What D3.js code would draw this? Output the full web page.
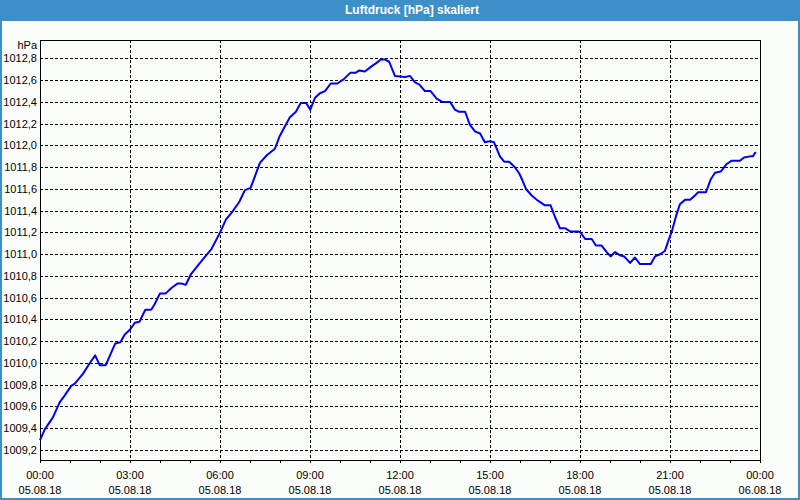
<!DOCTYPE html>
<html>
<head>
<meta charset="UTF-8">
<title>Luftdruck</title>
<style type="text/css">
body { margin: 0; background: #fbfdfb; }
svg { display: block; font-family: "Liberation Sans", Arial, sans-serif; }
.grid line { stroke: #000; stroke-width: 1px; stroke-dasharray: 3,2; shape-rendering: crispEdges; }
.lbl { font-size: 11px; fill: #000; }
path.line { fill: none; stroke: #0000f0; stroke-width: 2px; stroke-linejoin: round; }
</style>
<script src="https://d3js.org/d3.v7.min.js"></script>
</head>
<body>
<script type="text/javascript">
// hours since 05.08.18 00:00
var hours = [0.0,0.16,0.43,0.66,0.82,1.04,1.16,1.43,1.71,1.84,1.99,2.19,2.51,2.68,2.82,3.01,3.16,3.32,3.51,3.71,3.82,4.0,4.19,4.38,4.58,4.73,4.86,5.04,5.36,5.72,
  6.02,6.2,6.41,6.64,6.83,7.02,7.17,7.33,7.56,7.83,7.98,8.17,8.33,8.53,8.69,8.87,9.01,9.17,9.33,9.5,9.69,9.91,10.13,10.35,10.53,10.64,10.83,11.06,11.22,11.36,11.5,11.64,11.83,
  12.17,12.33,12.5,12.65,12.83,13.02,13.22,13.41,13.67,13.83,13.97,14.17,14.33,14.5,14.67,14.83,15.0,15.13,15.33,15.48,15.64,15.83,15.98,16.08,16.2,16.39,16.61,16.83,17.02,17.17,17.33,17.5,17.67,17.94,
  18.02,18.17,18.39,18.53,18.72,18.89,19.02,19.17,19.33,19.47,19.67,19.83,20.0,20.36,20.5,20.67,20.83,20.94,21.06,21.2,21.33,21.5,21.67,21.83,21.94,22.2,22.36,22.5,22.69,22.89,23.06,23.33,23.47,23.67,23.76,23.86];
var pressure = [1009.29,1009.39,1009.50,1009.64,1009.70,1009.79,1009.81,1009.90,1010.02,1010.07,1009.98,1009.98,1010.18,1010.19,1010.26,1010.31,1010.37,1010.38,1010.49,1010.49,1010.54,1010.64,1010.64,1010.69,1010.73,1010.73,1010.72,1010.82,1010.93,1011.05,
  1011.21,1011.32,1011.39,1011.48,1011.59,1011.61,1011.72,1011.84,1011.91,1011.97,1012.08,1012.18,1012.26,1012.31,1012.39,1012.39,1012.33,1012.44,1012.48,1012.50,1012.57,1012.57,1012.61,1012.67,1012.67,1012.69,1012.68,1012.73,1012.76,1012.79,1012.79,1012.77,1012.64,
  1012.63,1012.64,1012.58,1012.56,1012.50,1012.50,1012.43,1012.40,1012.40,1012.33,1012.31,1012.31,1012.19,1012.13,1012.11,1012.03,1012.04,1012.03,1011.90,1011.85,1011.85,1011.80,1011.74,1011.68,1011.60,1011.54,1011.49,1011.45,1011.45,1011.34,1011.24,1011.24,1011.21,1011.21,
  1011.20,1011.14,1011.14,1011.08,1011.08,1011.02,1010.98,1011.02,1010.99,1010.98,1010.92,1010.97,1010.91,1010.91,1010.98,1011.00,1011.03,1011.12,1011.21,1011.35,1011.46,1011.50,1011.50,1011.54,1011.57,1011.57,1011.69,1011.75,1011.76,1011.83,1011.86,1011.86,1011.89,1011.90,1011.90,1011.94];
var yTicks = [1009.2,1009.4,1009.6,1009.8,1010.0,1010.2,1010.4,1010.6,1010.8,1011.0,1011.2,1011.4,1011.6,1011.8,1012.0,1012.2,1012.4,1012.6,1012.8];
var title = "Luftdruck [hPa] skaliert";
var unit = "hPa";

var W = 800, H = 500;
var plot = {left: 40, top: 40, right: 760, bottom: 460};
var start = new Date(2018, 7, 5, 0, 0);
var end = new Date(2018, 7, 6, 0, 0);

var data = hours.map(function(h, i) {
  return {t: new Date(start.getTime() + h * 3600000), v: pressure[i]};
});

var x = d3.scaleTime().domain([start, end]).range([plot.left, plot.right]);
var y = d3.scaleLinear().domain([1009.108, 1012.97]).range([plot.bottom, plot.top]);

var svg = d3.select("body").append("svg")
  .attr("width", W).attr("height", H);

// title bar + window frame
svg.append("rect").attr("x", 0).attr("y", 0).attr("width", W).attr("height", 21).attr("fill", "#3d8fc7");
svg.append("rect").attr("x", 1).attr("y", 1).attr("width", W - 2).attr("height", H - 2)
  .attr("fill", "none").attr("stroke", "#3d8fc7").attr("stroke-width", 2);
svg.append("text").attr("x", 412).attr("y", 14)
  .attr("text-anchor", "middle").style("font-size", "12px").style("font-weight", "bold")
  .attr("fill", "#fff").text(title);

var hourTicks = d3.timeHour.every(1).range(start, new Date(end.getTime() + 1));
var majorTicks = d3.timeHour.every(3).range(start, new Date(end.getTime() + 1));

// grid
var grid = svg.append("g").attr("class", "grid");
grid.selectAll("line.h").data(yTicks).enter().append("line")
  .attr("x1", plot.left).attr("x2", plot.right)
  .attr("y1", function(d) { return Math.round(y(d)) + 0.5; })
  .attr("y2", function(d) { return Math.round(y(d)) + 0.5; });
grid.selectAll("line.v").data(majorTicks.slice(1, -1)).enter().append("line")
  .attr("y1", plot.top).attr("y2", plot.bottom)
  .attr("x1", function(d) { return Math.round(x(d)) + 0.5; })
  .attr("x2", function(d) { return Math.round(x(d)) + 0.5; });

// hourly ticks below x axis
svg.append("g").selectAll("line").data(hourTicks).enter().append("line")
  .attr("x1", function(d) { return Math.round(x(d)) + 0.5; })
  .attr("x2", function(d) { return Math.round(x(d)) + 0.5; })
  .attr("y1", plot.bottom).attr("y2", plot.bottom + 3)
  .attr("stroke", "#000").style("shape-rendering", "crispEdges");

// plot frame
svg.append("rect").attr("x", plot.left + 0.5).attr("y", plot.top + 0.5)
  .attr("width", plot.right - plot.left).attr("height", plot.bottom - plot.top)
  .attr("fill", "none").attr("stroke", "#000").style("shape-rendering", "crispEdges");

// y labels
var fmt = d3.format(".1f");
svg.append("g").selectAll("text").data(yTicks).enter().append("text")
  .attr("class", "lbl").attr("x", 37).attr("y", function(d) { return y(d) + 4; })
  .attr("text-anchor", "end").text(function(d) { return fmt(d).replace(".", ","); });
svg.append("text").attr("class", "lbl").attr("x", 37).attr("y", 49)
  .attr("text-anchor", "end").text(unit);

// x labels
var fTime = d3.timeFormat("%H:%M"), fDate = d3.timeFormat("%d.%m.%y");
var xl = svg.append("g").selectAll("g").data(majorTicks).enter().append("g");
xl.append("text").attr("class", "lbl").attr("text-anchor", "middle")
  .attr("x", function(d) { return x(d); }).attr("y", 479).text(fTime);
xl.append("text").attr("class", "lbl").attr("text-anchor", "middle")
  .attr("x", function(d) { return x(d); }).attr("y", 494).text(fDate);

// line
var line = d3.line()
  .x(function(d) { return x(d.t); })
  .y(function(d) { return y(d.v); });
svg.append("path").attr("class", "line").attr("d", line(data));
</script>
</body>
</html>
